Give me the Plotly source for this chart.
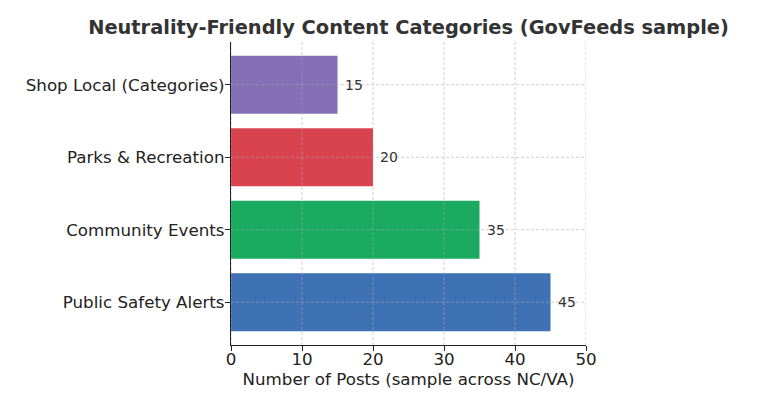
import plotly.graph_objects as go

categories = ["Public Safety Alerts", "Community Events", "Parks & Recreation", "Shop Local (Categories)"]
values = [45, 35, 20, 15]
colors = ["#3F72B5", "#1AAB60", "#D8434F", "#846FB6"]
x_ticks = [0, 10, 20, 30, 40, 50]

fig = go.Figure()
fig.add_trace(go.Bar(
    y=categories, x=values, orientation="h",
    marker=dict(color=colors, line=dict(width=0)),
    width=0.8, hoverinfo="skip",
))

for c, v in zip(categories, values):
    fig.add_annotation(x=v, y=c, text=str(v), showarrow=False,
                       xanchor="left", xshift=5,
                       font=dict(family="DejaVu Sans", size=14, color="#333333"))

grid_style = dict(color="rgba(170,170,170,0.55)", width=1, dash="3px,2px")
for t in x_ticks:
    fig.add_shape(type="line", xref="x", yref="paper", x0=t, x1=t, y0=0, y1=1,
                  line=grid_style, layer="above")
for c in categories:
    fig.add_shape(type="line", xref="paper", yref="y", x0=0, x1=1, y0=c, y1=c,
                  line=grid_style, layer="above")

fig.update_layout(
    width=768, height=398,
    margin=dict(l=223, r=190, t=34, b=61),
    paper_bgcolor="white", plot_bgcolor="white",
    showlegend=False,
    font=dict(family="DejaVu Sans", color="#222222"),
    title=dict(text="<b>Neutrality-Friendly Content Categories (GovFeeds sample)</b>",
               x=0.5, xref="paper", xanchor="center", y=1 - 19 / 398, yref="container", yanchor="middle",
               font=dict(family="DejaVu Sans", size=19.4, color="#333333")),
    bargap=0.2,
)
fig.update_xaxes(
    range=[0, 50], tickvals=x_ticks, ticks="outside", ticklen=5, tickcolor="#222",
    showline=True, linecolor="#222", linewidth=1.2,
    showgrid=False, zeroline=False, automargin=False,
    ticklabelstandoff=-6,
    tickfont=dict(size=16.7, color="#222"),
    title=dict(text="Number of Posts (sample across NC/VA)", font=dict(size=16.7, color="#222"), standoff=0),
)
fig.update_yaxes(
    range=[-0.59, 3.59], type="category", ticks="outside", ticklen=5, tickcolor="#222",
    showline=True, linecolor="#222", linewidth=1.2,
    showgrid=False, zeroline=False, automargin=False,
    ticklabelstandoff=-3,
    tickfont=dict(size=16.7, color="#222"),
)

fig.write_html("out.html")
